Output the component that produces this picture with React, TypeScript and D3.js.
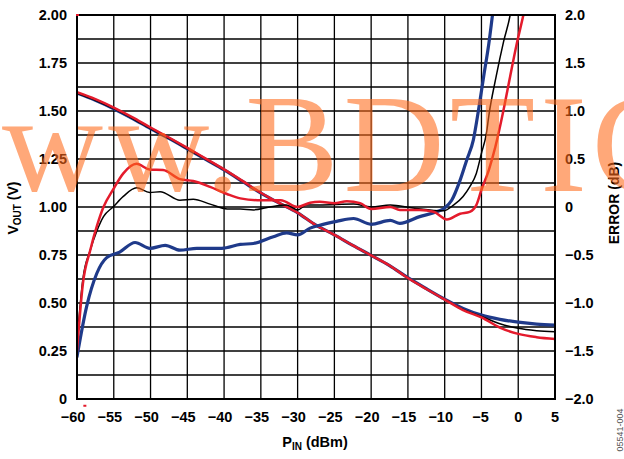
import React from "react";
import * as d3 from "d3";

// ---- data ----
const X_TICKS = [-60, -55, -50, -45, -40, -35, -30, -25, -20, -15, -10, -5, 0, 5];
const VL_TICKS = [0, 0.25, 0.5, 0.75, 1.0, 1.25, 1.5, 1.75, 2.0];
const VL_LABELS = ["0", "0.25", "0.50", "0.75", "1.00", "1.25", "1.50", "1.75", "2.00"];
const ER_TICKS = [-2, -1.5, -1, -0.5, 0, 0.5, 1, 1.5, 2];
const ER_LABELS = ["\u22122.0", "\u22121.5", "\u22121.0", "\u22120.5", "0", "0.5", "1.0", "1.5", "2.0"];

const VOUT_P = [-60, -57.5, -55, -52.5, -50, -47.5, -45, -42.5, -40, -37.5, -35, -32.5, -30, -27.5, -25, -22.5, -20, -17.5, -15, -12.5, -10, -7.5, -5, -2.5, 0, 2.5, 5];
const VOUT_BLUE = [1.593, 1.556, 1.512, 1.462, 1.408, 1.357, 1.303, 1.248, 1.193, 1.133, 1.072, 1.02, 0.97, 0.905, 0.855, 0.8, 0.748, 0.695, 0.632, 0.575, 0.52, 0.472, 0.437, 0.415, 0.4, 0.39, 0.385];
const VOUT_BLACK = [1.593, 1.556, 1.512, 1.462, 1.408, 1.357, 1.303, 1.248, 1.193, 1.133, 1.072, 1.02, 0.97, 0.905, 0.855, 0.8, 0.748, 0.695, 0.631, 0.574, 0.519, 0.466, 0.43, 0.392, 0.368, 0.356, 0.35];
const VOUT_RED = [1.598, 1.562, 1.518, 1.468, 1.414, 1.362, 1.308, 1.252, 1.196, 1.136, 1.074, 1.02, 0.97, 0.905, 0.855, 0.8, 0.748, 0.695, 0.63, 0.573, 0.518, 0.463, 0.425, 0.372, 0.339, 0.322, 0.3125];

const ERR_RED_P = [-60, -59.2, -58.2, -57.3, -56.4, -55.1, -53.7, -51.9, -50.1, -48.3, -46, -44.2, -41.9, -39.6, -37.8, -35, -32.3, -30, -28.3, -27, -25, -23.3, -21.5, -20, -17.4, -16.1, -13.4, -11.5, -9.7, -7.9, -6.6, -5.7, -5, -4, -3.1, -2, -1.1, -0.2, 0.7, 1.5];
const ERR_RED = [-1.5, -0.8, -0.45, -0.2, 0.0, 0.18, 0.35, 0.45, 0.39, 0.385, 0.29, 0.27, 0.21, 0.135, 0.09, 0.07, 0.07, 0.0, 0.045, 0.055, 0.04, 0.06, 0.04, -0.02, 0.0, -0.03, -0.03, -0.05, -0.13, -0.07, -0.05, 0.02, 0.18, 0.385, 0.63, 1.01, 1.36, 1.7, 2.0, 2.3];

const ERR_BLACK_P = [-60, -59.2, -58.2, -57.3, -56.4, -55.1, -53.7, -51.9, -50.1, -48.7, -46, -44.2, -41.9, -39.6, -37.8, -36, -33.8, -31.5, -30, -28.8, -27, -22.4, -20, -17.4, -14.3, -10.2, -8.8, -7.5, -6.6, -5.7, -5, -4.3, -4, -3, -2, -1.1, -0.5];
const ERR_BLACK = [-1.4, -0.75, -0.45, -0.25, -0.1, 0.0, 0.11, 0.2, 0.15, 0.16, 0.07, 0.08, 0.03, -0.02, -0.02, -0.03, 0.0, 0.02, -0.03, 0.02, 0.02, 0.03, 0.0, 0.02, -0.01, -0.04, 0.02, 0.11, 0.21, 0.35, 0.56, 0.78, 0.95, 1.36, 1.72, 2.0, 2.3];

const ERR_BLUE_P = [-60, -58.7, -57.3, -56, -54.2, -52.1, -50.1, -48, -46, -43.7, -40.3, -37.8, -36, -33.3, -31.5, -30, -28.3, -27, -24.7, -22.4, -20, -17.4, -16.1, -13.4, -11.1, -10, -9.05, -7.9, -7, -6.1, -5.4, -4.7, -4, -3.5, -3];
const ERR_BLUE = [-1.56, -1.04, -0.69, -0.53, -0.47, -0.37, -0.43, -0.4, -0.45, -0.43, -0.43, -0.39, -0.38, -0.31, -0.27, -0.29, -0.22, -0.19, -0.15, -0.12, -0.18, -0.14, -0.17, -0.1, -0.05, -0.01, 0.07, 0.28, 0.49, 0.7, 1.01, 1.36, 1.7, 2.0, 2.3];

const BLUE = "#1F3A8A";
const RED = "#E41B2C";
const BLACK = "#000000";

const W = 624, H = 459;
const L = 77, R = 555, T = 15, B = 399;

export default function App() {
  const x = d3.scaleLinear().domain([-60, 5]).range([L, R]);
  const yV = d3.scaleLinear().domain([0, 2]).range([B, T]);
  const yE = d3.scaleLinear().domain([-2, 2]).range([B, T]);

  const lineV = (ys: number[]) =>
    d3.line<number>().x((_, i) => x(VOUT_P[i])).y((v) => yV(v)).curve(d3.curveMonotoneX)(ys) || "";
  const lineE = (ps: number[], ys: number[]) =>
    d3.line<number>().x((_, i) => x(ps[i])).y((v) => yE(v)).curve(d3.curveMonotoneX)(ys) || "";

  const hGrid = d3.range(0, 2.0001, 0.125);
  const font = "'Liberation Sans', Arial, Helvetica, sans-serif";

  return (
    <svg width={W} height={H} style={{ position: "absolute", left: 0, top: 0, background: "#fff" }}>
      <defs>
        <clipPath id="plot">
          <rect x={L} y={T} width={R - L} height={B - T} />
        </clipPath>
      </defs>
      {/* grid */}
      <g stroke="#000" strokeWidth={1.3}>
        {X_TICKS.map((t) => (
          <line key={"v" + t} x1={x(t)} x2={x(t)} y1={T} y2={B} />
        ))}
        {hGrid.map((t) => (
          <line key={"h" + t} x1={L} x2={R} y1={yV(t)} y2={yV(t)} />
        ))}
      </g>
      {/* curves */}
      <g clipPath="url(#plot)" fill="none" strokeLinejoin="round" strokeLinecap="round">
        <path d={lineV(VOUT_BLUE)} stroke={BLUE} strokeWidth={3.2} />
        <path d={lineV(VOUT_BLACK)} stroke={BLACK} strokeWidth={1.5} />
        <path d={lineV(VOUT_RED)} stroke={RED} strokeWidth={2.5} />
        <path d={lineE(ERR_BLUE_P, ERR_BLUE)} stroke={BLUE} strokeWidth={3.2} />
        <path d={lineE(ERR_BLACK_P, ERR_BLACK)} stroke={BLACK} strokeWidth={1.5} />
        <path d={lineE(ERR_RED_P, ERR_RED)} stroke={RED} strokeWidth={2.5} />
      </g>
      {/* frame */}
      <rect x={L} y={T} width={R - L} height={B - T} fill="none" stroke="#000" strokeWidth={2} />
      {/* stray red marks */}
      <rect x={x(-60) - 1} y={yV(2) - 1} width={3} height={2} fill={RED} />
      <rect x={x(-59) - 1} y={yV(-0.03)} width={3} height={2} fill={RED} />
      {/* tick labels */}
      <g fontFamily={font} fontWeight="bold" fontSize={14.5} fill="#000">
        {VL_TICKS.map((t, i) => (
          <text key={"l" + t} x={67} y={yV(t)} dy="0.36em" textAnchor="end">
            {VL_LABELS[i]}
          </text>
        ))}
        {ER_TICKS.map((t, i) => (
          <text key={"r" + t} x={565} y={yE(t)} dy="0.36em" textAnchor="start">
            {ER_LABELS[i]}
          </text>
        ))}
        {X_TICKS.map((t) => (
          <text key={"x" + t} x={x(t)} y={422} dx={t <= -10 ? -4 : t < 0 ? -1 : 0} textAnchor="middle">
            {t < 0 ? "\u2212" + Math.abs(t) : String(t)}
          </text>
        ))}
      </g>
      {/* axis titles */}
      <g fontFamily={font} fontWeight="bold" fill="#000">
        <text x={315} y={447} textAnchor="middle" fontSize={14.5}>
          P<tspan fontSize={10} dy={3}>IN</tspan>
          <tspan dy={-3}> (dBm)</tspan>
        </text>
        <text transform="translate(18,208) rotate(-90)" textAnchor="middle" fontSize={14}>
          V<tspan fontSize={10} dy={3}>OUT</tspan>
          <tspan dy={-3}> (V)</tspan>
        </text>
        <text transform="translate(619,203) rotate(-90)" textAnchor="middle" fontSize={14}>
          ERROR (dB)
        </text>
      </g>
      <text transform="translate(623,430) rotate(-90)" textAnchor="middle" fontSize={9} fontFamily={font} fill="#555">
        05541-004
      </text>
      {/* watermark */}
      <text x={-104} y={191} fontFamily="'Liberation Serif', 'Times New Roman', serif" fontSize={140} letterSpacing={5} fill="#FF6A1A" opacity={0.58}>
        www.BDTIC
      </text>
    </svg>
  );
}
